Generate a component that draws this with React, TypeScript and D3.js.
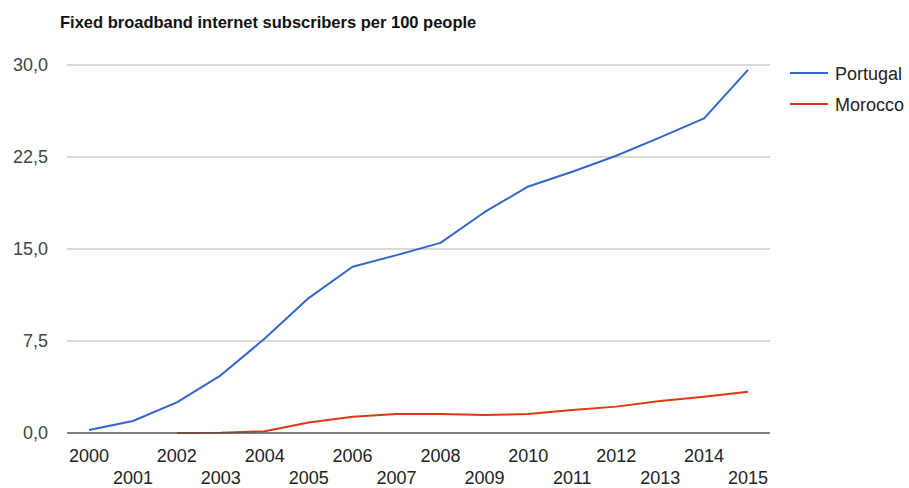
import React from "react";
import * as d3 from "d3";

const years = [2000, 2001, 2002, 2003, 2004, 2005, 2006, 2007, 2008, 2009, 2010, 2011, 2012, 2013, 2014, 2015];
const portugal: (number | null)[] = [0.24, 0.98, 2.5, 4.7, 7.7, 11.0, 13.55, 14.5, 15.5, 18.0, 20.1, 21.3, 22.6, 24.1, 25.65, 29.6];
const morocco: (number | null)[] = [null, null, 0.01, 0.02, 0.15, 0.85, 1.33, 1.55, 1.55, 1.47, 1.55, 1.87, 2.15, 2.6, 2.96, 3.37];
const yTicks = [0, 7.5, 15, 22.5, 30];
const seriesNames = ["Portugal", "Morocco"];
const seriesColors = ["#3366cc", "#dc3912"];
const title = "Fixed broadband internet subscribers per 100 people";

const W = 909;
const H = 488;
const left = 67;
const right = 770;
const top = 65;
const bottom = 433;

export default function App() {
  const x = d3.scaleBand<number>().domain(years).range([left, right]);
  const y = d3.scaleLinear().domain([0, 30]).range([bottom, top]);
  const cx = (yr: number) => (x(yr) as number) + x.bandwidth() / 2;
  const fmt = (v: number) => v.toFixed(1).replace(".", ",");
  const line = d3
    .line<number | null>()
    .defined((d) => d !== null)
    .x((_, i) => cx(years[i]))
    .y((d) => y(d as number));
  const series = [portugal, morocco];
  const font = "Arial, 'Liberation Sans', Helvetica, sans-serif";

  return (
    <svg
      width={W}
      height={H}
      style={{ position: "absolute", left: 0, top: 0, background: "#fff" }}
      fontFamily={font}
    >
      <rect x={0} y={0} width={W} height={H} fill="#fff" />
      <text x={60} y={28} fontSize={16.5} fontWeight="bold" fill="#111">
        {title}
      </text>
      {yTicks.map((t) => (
        <g key={t}>
          {t !== 0 && (
            <line x1={left} x2={right} y1={y(t)} y2={y(t)} stroke="#cccccc" strokeWidth={1.3} />
          )}
          <text x={48} y={y(t) + 6} textAnchor="end" fontSize={18} fill="#444">
            {fmt(t)}
          </text>
        </g>
      ))}
      {series.map((s, i) => (
        <path key={i} d={line(s) || ""} fill="none" stroke={seriesColors[i]} strokeWidth={2} strokeLinejoin="round" />
      ))}
      <line x1={left} x2={right} y1={bottom} y2={bottom} stroke="#555" strokeWidth={1.3} />
      {years.map((yr, i) => (
        <text
          key={yr}
          x={cx(yr)}
          y={i % 2 === 0 ? 462 : 484}
          textAnchor="middle"
          fontSize={18}
          fill="#222"
        >
          {yr}
        </text>
      ))}
      {seriesNames.map((n, i) => (
        <g key={n}>
          <line x1={790} x2={828} y1={73 + i * 31} y2={73 + i * 31} stroke={seriesColors[i]} strokeWidth={2} />
          <text x={835} y={80 + i * 31} fontSize={18} fill="#222">
            {n}
          </text>
        </g>
      ))}
    </svg>
  );
}
